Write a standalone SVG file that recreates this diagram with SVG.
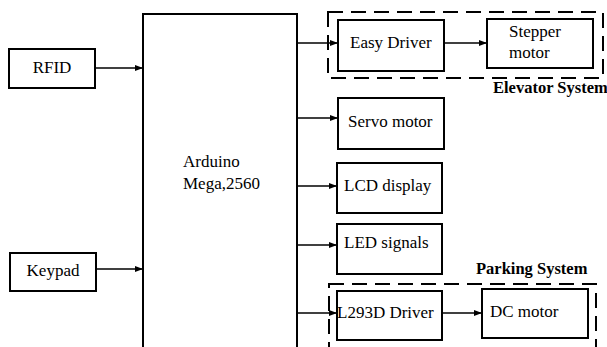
<svg xmlns="http://www.w3.org/2000/svg" width="607" height="347" viewBox="0 0 607 347">
<defs>
<marker id="ah" viewBox="0 0 8 8" refX="8" refY="4" markerWidth="8" markerHeight="8" markerUnits="userSpaceOnUse" orient="auto">
<path d="M0,1 L8,4 L0,7 Z" fill="#000"/>
</marker>
</defs>
<style>
.box{fill:#fff;stroke:#000;stroke-width:2}
.grp{fill:none;stroke:#000;stroke-width:2;stroke-dasharray:15 8}
.t{font-family:"Liberation Serif","Times New Roman",serif;font-size:17px;fill:#000}
.b{font-family:"Liberation Serif","Times New Roman",serif;font-size:16.5px;font-weight:bold;fill:#000}
.c{fill:none;stroke:#000;stroke-width:1.5}
</style>
<rect width="607" height="347" fill="#fff"/>
<g id="elevator-system">
<rect class="grp" x="328" y="12" width="275" height="66"/>
<text class="b" x="493" y="93">Elevator System</text>
</g>
<g id="parking-system">
<rect class="grp" x="329" y="284" width="267" height="80"/>
<text class="b" x="476" y="274">Parking System</text>
</g>
<g id="rfid">
<rect class="box" x="9" y="49" width="86" height="39"/>
<text class="t" x="52" y="73" text-anchor="middle">RFID</text>
</g>
<g id="keypad">
<rect class="box" x="10" y="253" width="86" height="38"/>
<text class="t" x="53" y="276" text-anchor="middle">Keypad</text>
</g>
<g id="arduino">
<rect class="box" x="143" y="14" width="154" height="345"/>
<text class="t" x="183" y="167">Arduino</text>
<text class="t" x="183" y="189">Mega,2560</text>
</g>
<g id="easy-driver">
<rect class="box" x="338" y="20" width="106" height="51"/>
<text class="t" x="350" y="48">Easy Driver</text>
</g>
<g id="stepper-motor">
<rect class="box" x="487" y="19" width="106" height="49"/>
<text class="t" x="509" y="37">Stepper</text>
<text class="t" x="509" y="58">motor</text>
</g>
<g id="servo-motor">
<rect class="box" x="338" y="98" width="106" height="51"/>
<text class="t" x="348" y="127">Servo motor</text>
</g>
<g id="lcd-display">
<rect class="box" x="337" y="163" width="105" height="50"/>
<text class="t" x="344" y="191">LCD display</text>
</g>
<g id="led-signals">
<rect class="box" x="337" y="224" width="105" height="50"/>
<text class="t" x="344" y="248">LED signals</text>
</g>
<g id="l293d-driver">
<rect class="box" x="337" y="291" width="105" height="49"/>
<text class="t" x="337" y="318">L293D Driver</text>
</g>
<g id="dc-motor">
<rect class="box" x="482" y="289" width="106" height="49"/>
<text class="t" x="490" y="317">DC motor</text>
</g>
<g id="connectors">
<line class="c" x1="95" y1="68" x2="143" y2="68" marker-end="url(#ah)"/>
<line class="c" x1="96" y1="269" x2="143" y2="269" marker-end="url(#ah)"/>
<line class="c" x1="297" y1="43" x2="338" y2="43" marker-end="url(#ah)"/>
<line class="c" x1="444" y1="43" x2="487" y2="43" marker-end="url(#ah)"/>
<line class="c" x1="297" y1="118" x2="338" y2="118" marker-end="url(#ah)"/>
<line class="c" x1="297" y1="186" x2="337" y2="186" marker-end="url(#ah)"/>
<line class="c" x1="297" y1="245" x2="337" y2="245" marker-end="url(#ah)"/>
<line class="c" x1="297" y1="313" x2="337" y2="313" marker-end="url(#ah)"/>
<line class="c" x1="442" y1="313" x2="482" y2="313" marker-end="url(#ah)"/>
</g>
</svg>
